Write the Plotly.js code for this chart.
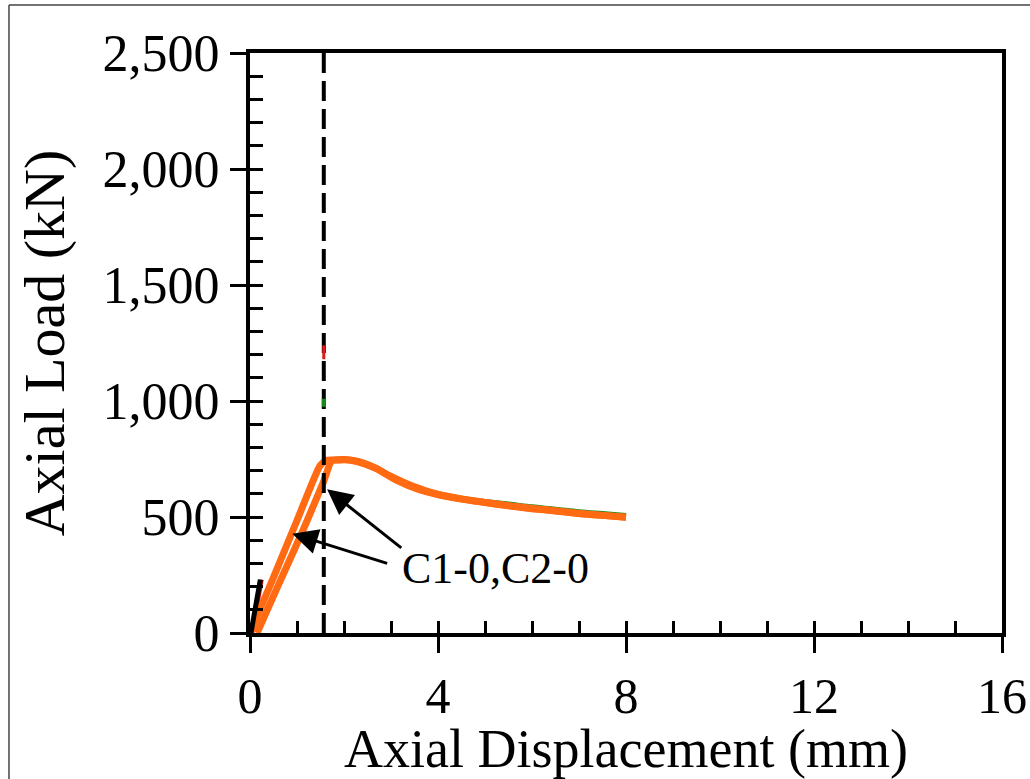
<!DOCTYPE html>
<html>
<head>
<meta charset="utf-8">
<script src="https://cdn.plot.ly/plotly-3.0.1.min.js"></script>
<style>html,body{margin:0;padding:0;background:#fff;}#chart{width:1030px;height:779px;}</style>
</head>
<body>
<div id="chart"></div>
<script>
// ---- data (x: mm, y: kN) ----
const c1Disp = [0, 0.5, 1.0, 1.48, 1.62, 1.8, 2.0, 2.3, 2.6, 3.0, 3.5, 4.0, 4.5, 5.0, 5.5, 6.0, 6.5, 7.0, 7.5, 8.0];
const c1Load = [0, 240, 485, 718, 745, 746, 748, 740, 718, 675, 630, 597, 577, 562, 548, 536, 526, 515, 507, 499];
const c2Disp = [0.15, 0.6, 1.1, 1.57, 1.74, 1.9, 2.1, 2.3, 2.7, 3.1, 3.6, 4.1, 4.6, 5.0, 5.5, 6.0, 6.5, 7.0, 7.5, 8.0];
const c2Load = [0, 205, 430, 655, 744, 746, 746, 738, 708, 660, 618, 593, 575, 563, 549, 537, 527, 515, 507, 499];
const greenDisp = [4.9, 5.5, 6.0, 6.5, 7.0, 7.5, 8.0];
const greenLoad = [571, 558, 546, 536, 525, 517, 509];
const earlyDisp = [0.02, 0.22];
const earlyLoad = [0, 230];
const peakDisp = 1.57;
const dashLoad = [0, 2500];
const redMarkLoad = [1180, 1240];
const greenMarkLoad = [975, 1010];
const xTickVals = [0, 4, 8, 12, 16];
const yTickVals = [0, 500, 1000, 1500, 2000, 2500];
const labelText = 'C1-0,C2-0';

const FONT = '"Liberation Serif", "Times New Roman", Times, serif';
const ORANGE = '#ff6a13';

const traces = [
  {x: greenDisp, y: greenLoad, mode: 'lines', line: {color: '#1a8a1a', width: 4, shape: 'spline'}, hoverinfo: 'skip'},
  {x: earlyDisp, y: earlyLoad, mode: 'lines', line: {color: '#1a8a1a', width: 3}, hoverinfo: 'skip'},
  {x: earlyDisp.map(v => v + 0.04), y: earlyLoad, mode: 'lines', line: {color: '#d01010', width: 3}, hoverinfo: 'skip'},
  {x: c1Disp, y: c1Load, mode: 'lines', line: {color: ORANGE, width: 7, shape: 'spline', smoothing: 0.5}, name: 'C1-0'},
  {x: c2Disp, y: c2Load, mode: 'lines', line: {color: ORANGE, width: 7, shape: 'spline', smoothing: 0.5}, name: 'C2-0'},
  {x: earlyDisp, y: earlyLoad, mode: 'lines', line: {color: '#000', width: 5}, hoverinfo: 'skip'},
  {x: [peakDisp, peakDisp], y: dashLoad, mode: 'lines', line: {color: '#000', width: 4, dash: '20px,8px'}, hoverinfo: 'skip'},
  {x: [peakDisp, peakDisp], y: redMarkLoad, mode: 'lines', line: {color: '#e01818', width: 3}, hoverinfo: 'skip'},
  {x: [peakDisp, peakDisp], y: greenMarkLoad, mode: 'lines', line: {color: '#1a8a1a', width: 4}, hoverinfo: 'skip'},
  {x: [null], y: [null], xaxis: 'x2', yaxis: 'y2', mode: 'lines', hoverinfo: 'skip'}
];

const axBase = {
  showgrid: false, zeroline: false, showline: true, linecolor: '#000', linewidth: 4,
  mirror: true, tickcolor: '#000', tickwidth: 3,
  tickfont: {family: FONT, size: 52, color: '#000'}
};

const layout = {
  width: 1030, height: 779,
  margin: {l: 250, r: 28, t: 53, b: 146},
  paper_bgcolor: '#fff', plot_bgcolor: '#fff',
  showlegend: false,
  font: {family: FONT, color: '#000'},
  xaxis: Object.assign({}, axBase, {
    range: [0, 16], tickvals: xTickVals, ticks: 'outside', ticklen: 16,
    tickfont: {family: FONT, size: 50, color: '#000'},
    title: {text: 'Axial Displacement (mm)', font: {family: FONT, size: 54, color: '#000'}, standoff: 14}
  }),
  yaxis: Object.assign({}, axBase, {
    range: [0, 2500], tickvals: yTickVals, tickformat: ',d', ticks: 'outside', ticklen: 16,
    title: {text: 'Axial Load (kN)', font: {family: FONT, size: 58, color: '#000'}, standoff: 20}
  }),
  xaxis2: {
    overlaying: 'x', anchor: 'y2', range: [0, 16], dtick: 1, tick0: 0, ticks: 'inside', ticklen: 12,
    tickwidth: 3, tickcolor: '#000', showticklabels: false, showgrid: false, zeroline: false, showline: false
  },
  yaxis2: {
    overlaying: 'y', anchor: 'x2', range: [0, 2500], dtick: 100, tick0: 0, ticks: 'inside', ticklen: 13,
    tickwidth: 3, tickcolor: '#000', showticklabels: false, showgrid: false, zeroline: false, showline: false
  },
  annotations: [
    {x: 0.90, y: 428, ax: 2.95, ay: 298, xref: 'x', yref: 'y', axref: 'x', ayref: 'y',
     text: '', showarrow: true, arrowhead: 2, arrowsize: 1.7, arrowwidth: 3, arrowcolor: '#000'},
    {x: 1.64, y: 620, ax: 3.25, ay: 362, xref: 'x', yref: 'y', axref: 'x', ayref: 'y',
     text: '', showarrow: true, arrowhead: 2, arrowsize: 1.7, arrowwidth: 3, arrowcolor: '#000'},
    {x: 3.2, y: 280, xref: 'x', yref: 'y', xanchor: 'left', yanchor: 'middle', text: labelText,
     showarrow: false, font: {family: FONT, size: 44, color: '#000'}}
  ],
  shapes: [
    {type: 'line', xref: 'paper', yref: 'paper', x0: -0.3205, x1: -0.3205, y0: 1.0828, y1: -0.3,
     line: {color: '#444', width: 1.5}},
    {type: 'line', xref: 'paper', yref: 'paper', x0: -0.3205, x1: 1.05, y0: 1.0828, y1: 1.0828,
     line: {color: '#444', width: 1.5}}
  ]
};

Plotly.newPlot('chart', traces, layout, {displayModeBar: false, staticPlot: true});
</script>
</body>
</html>
